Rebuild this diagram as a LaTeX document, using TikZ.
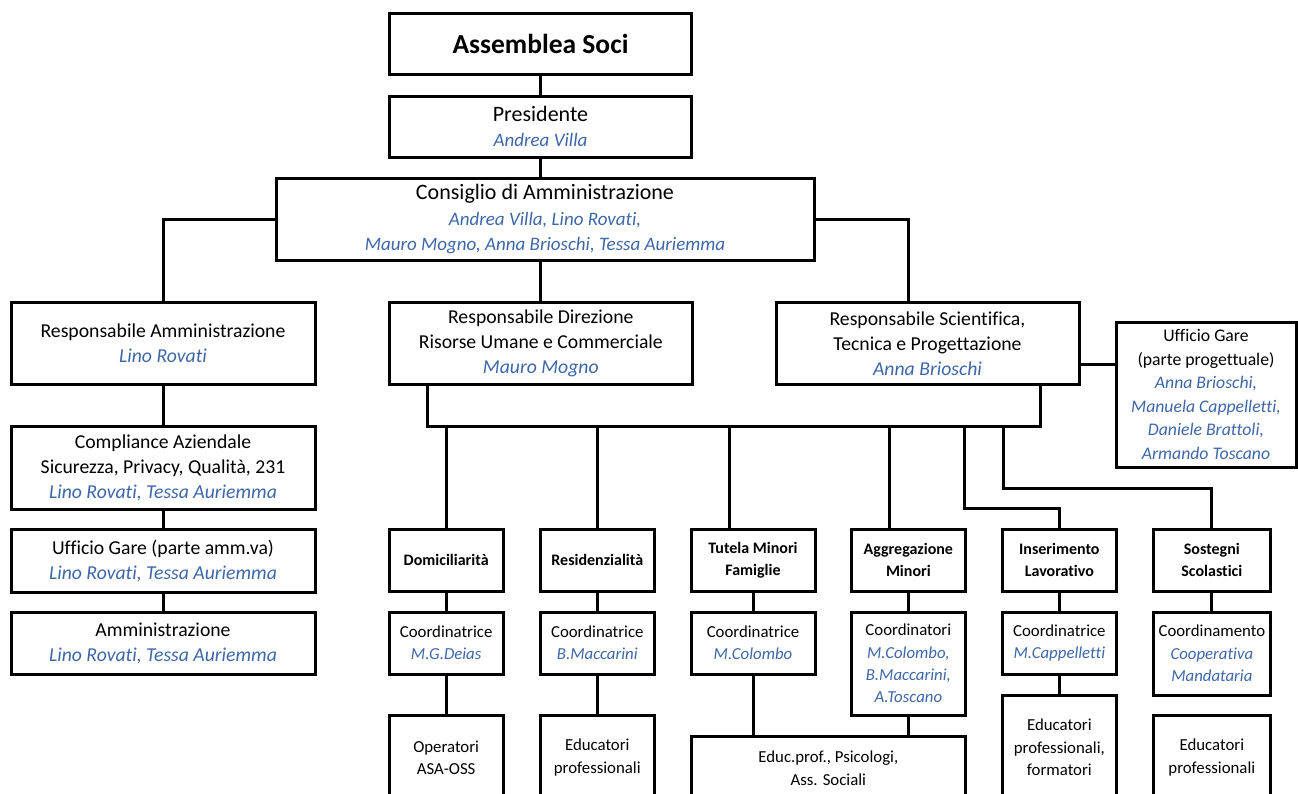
\documentclass[tikz,border=0pt]{standalone}
\usepackage{fontspec}
\setmainfont{Carlito}[Ligatures=CommonOff]
\usetikzlibrary{calc}
\definecolor{namecol}{RGB}{61,103,168}
\newcommand\nm[1]{{\itshape\color{namecol}#1}}
\newcommand\nmb[1]{{\fontsize{19}{25.8}\selectfont\itshape\color{namecol}#1}}
\newcommand\mybox[7]{\node[#6,minimum width={#4-#2},minimum height={#5-#3}] (#1) at ({(#2+#4)/2},{(#3+#5)/2}) {#7};}
\begin{document}
\begin{tikzpicture}[x=1pt,y=-1pt,
 box/.style={draw,line width=3pt,align=center,inner sep=0pt,outer sep=0pt},
 big/.style={box,font=\fontsize{22}{25.8}\selectfont},
 mid/.style={box,font=\fontsize{19.7}{25}\selectfont},
 ugf/.style={box,font=\fontsize{17.7}{23.5}\selectfont},
 small/.style={box,font=\fontsize{16.8}{22.3}\selectfont},
 sbold/.style={box,font=\fontsize{16}{22}\selectfont\bfseries},
 conn/.style={line width=3pt}]
\useasboundingbox (0,0) rectangle (1298,793);
% top
\mybox{A}{389.5}{13}{691.5}{74.5}{box,font=\fontsize{27.5}{30}\selectfont\bfseries}{Assemblea Soci}
\mybox{P}{389.5}{96}{691.5}{157}{big}{Presidente\\\nmb{Andrea Villa}}
\mybox{C}{276}{178}{814}{260}{big}{Consiglio di Amministrazione\\\nmb{Andrea Villa, Lino Rovati,}\\\nmb{Mauro Mogno, Anna Brioschi, Tessa Auriemma}}
% row 2
\mybox{RA}{11}{302.5}{315}{384.5}{mid}{Responsabile Amministrazione\\\nm{Lino Rovati}}
\mybox{RD}{389}{302.5}{692.7}{384.5}{mid}{Responsabile Direzione\\Risorse Umane e Commerciale\\\nm{Mauro Mogno}}
\mybox{RS}{776}{302.5}{1079}{384.5}{mid}{Responsabile Scientifica,\\Tecnica e Progettazione\\\nm{Anna Brioschi}}
\mybox{UG}{1116}{322}{1296}{467}{ugf}{Ufficio Gare\\(parte progettuale)\\\nm{Anna Brioschi,}\\\nm{Manuela Cappelletti,}\\\nm{Daniele Brattoli,}\\\nm{Armando Toscano}}
% left column
\mybox{CA}{11}{426.3}{315}{509}{mid}{Compliance Aziendale\\Sicurezza, Privacy, Qualità, 231\\\nm{Lino Rovati, Tessa Auriemma}}
\mybox{UA}{11}{529.3}{315}{592}{mid}{Ufficio Gare (parte amm.va)\\\nm{Lino Rovati, Tessa Auriemma}}
\mybox{AM}{11}{612.3}{315}{674}{mid}{Amministrazione\\\nm{Lino Rovati, Tessa Auriemma}}
% services
\mybox{D1}{389}{529.3}{503.3}{591}{sbold}{Domiciliarità}
\mybox{D2}{540.3}{529.3}{654.3}{591}{sbold}{Residenzialità}
\mybox{D3}{691}{529.3}{815}{591}{sbold}{Tutela Minori\\Famiglie}
\mybox{D4}{851}{529.3}{965.7}{591}{sbold}{Aggregazione\\Minori}
\mybox{D5}{1002}{529.3}{1116.7}{591}{sbold}{Inserimento\\Lavorativo}
\mybox{D6}{1153}{529.3}{1270.7}{591}{sbold}{Sostegni\\Scolastici}
% coordinators
\mybox{K1}{389}{612}{503.3}{674}{small}{Coordinatrice\\\nm{M.G.Deias}}
\mybox{K2}{540.3}{612}{654.3}{674}{small}{Coordinatrice\\\nm{B.Maccarini}}
\mybox{K3}{691}{612}{815}{674}{small}{Coordinatrice\\\nm{M.Colombo}}
\mybox{K4}{851}{612}{965.7}{715.3}{small}{Coordinatori\\\nm{M.Colombo,}\\\nm{B.Maccarini,}\\\nm{A.Toscano}}
\mybox{K5}{1002}{612}{1116.7}{674}{small}{Coordinatrice\\\nm{M.Cappelletti}}
\mybox{K6}{1153}{612}{1270.7}{695}{small}{Coordinamento\\\nm{Cooperativa}\\\nm{Mandataria}}
% bottom
\mybox{B1}{389}{715.3}{503.3}{800}{small}{Operatori\\ASA-OSS}
\mybox{B2}{540.3}{715.3}{654.3}{800}{small}{Educatori\\professionali}
\mybox{B3}{691}{736.5}{965.7}{800}{small}{Educ.prof., Psicologi,\\Ass. Sociali}
\mybox{B5}{1002}{695}{1116.7}{800}{small}{Educatori\\professionali,\\formatori}
\mybox{B6}{1153}{715.3}{1270.7}{800}{small}{Educatori\\professionali}
% connectors
\draw[conn] (A.south) -- (P.north);
\draw[conn] (P.south) -- (P.south |- C.north);
\draw[conn] (C.west) -| (RA.north);
\draw[conn] (RD.north) -- (RD.north |- C.south);
\draw[conn] (C.east) -| ([xshift=-19.5pt]RS.north);
\draw[conn] ([yshift=-20.5pt]RS.east) -- ([yshift=-20.5pt]RS.east -| UG.west);
\draw[conn] (RA.south) -- (CA.north);
\draw[conn] (CA.south) -- (UA.north);
\draw[conn] (UA.south) -- (AM.north);
\coordinate (busL) at (427.7,426);
\coordinate (busR) at (1040.7,426);
\draw[conn] (RD.south -| busL) -- (busL) -- (busR) -- (RS.south -| busR);
\draw[conn] (D1.north |- busL) -- (D1.north);
\draw[conn] (D2.north |- busL) -- (D2.north);
\draw[conn] ([xshift=-23.7pt]D3.north |- busL) -- ([xshift=-23.7pt]D3.north);
\draw[conn] ([xshift=-18.85pt]D4.north |- busL) -- ([xshift=-18.85pt]D4.north);
\coordinate (e1) at (964.5,426);
\coordinate (e2) at (1003,426);
\draw[conn] (e1) -- ++(0,82.3) -| (D5.north);
\draw[conn] (e2) -- ++(0,62.3) -| (D6.north);
\foreach \i in {1,...,6} {\draw[conn] (D\i.south) -- (K\i.north);}
\draw[conn] (K1.south) -- (B1.north);
\draw[conn] (K2.south) -- (B2.north);
\draw[conn] (K3.south) -- (K3.south |- B3.north);
\draw[conn] (K4.south) -- (K4.south |- B3.north);
\draw[conn] (K5.south) -- (B5.north);
\end{tikzpicture}
\end{document}
